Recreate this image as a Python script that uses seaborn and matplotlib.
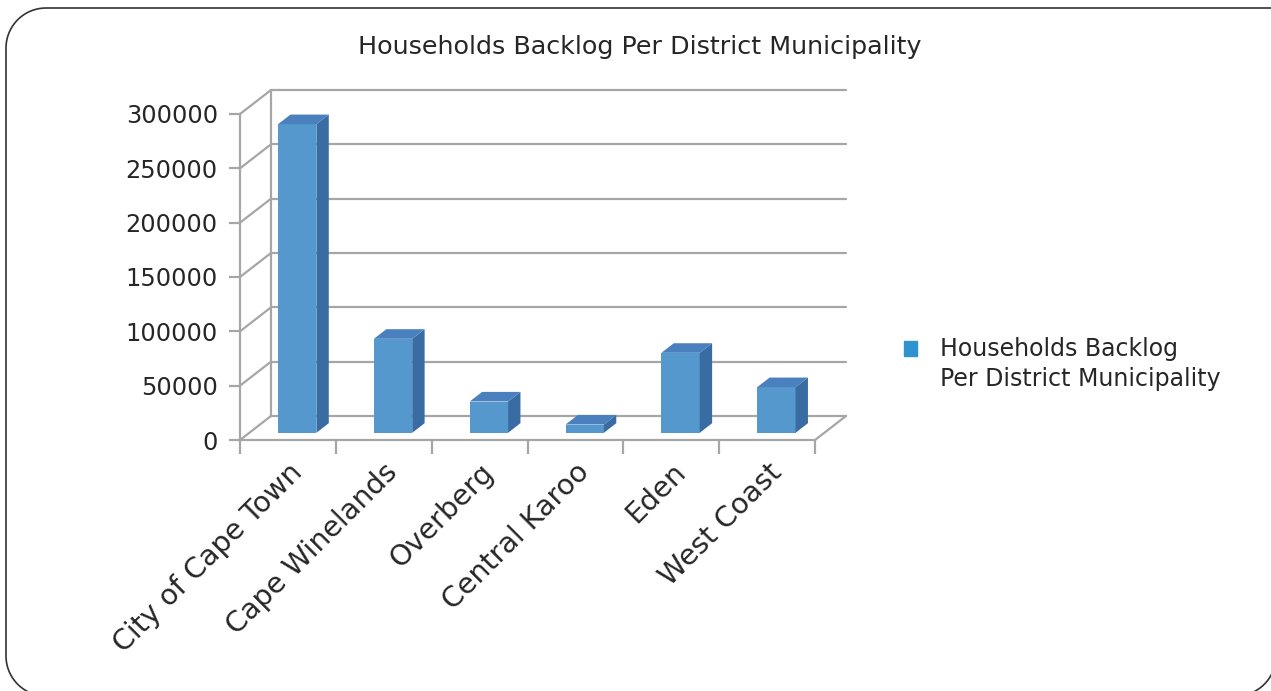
#%% import libraries
import numpy as np
import pandas as pd
import seaborn as sns
import matplotlib
matplotlib.use('Agg')
import matplotlib.pyplot as plt
from matplotlib.patches import Polygon, PathPatch, Patch
from matplotlib.path import Path
from matplotlib.transforms import IdentityTransform

#%% data
districts = ['City of Cape Town', 'Cape Winelands', 'Overberg', 'Central Karoo', 'Eden', 'West Coast']
backlog = [284000, 86500, 28800, 7600, 73600, 42000]
y_ticks = [0, 50000, 100000, 150000, 200000, 250000, 300000]
series_name = 'Households Backlog Per District Municipality'

df = pd.DataFrame({'district': districts, 'backlog': backlog})

#%% style
sns.set_theme(style='white')
plt.rcParams['font.family'] = ['DejaVu Sans']
text_col = '#262626'
grid_col = '#A6A6A6'
front_col = '#5598CE'
side_col = '#386CA2'
top_col = '#4A80BE'

W, H = 1271, 691
fig = plt.figure(figsize=(W / 100, H / 100), dpi=100)

# front plane of the 3d box (pixels)
px_left, px_right, px_bottom, px_top = 240, 815, 440, 114
ax = fig.add_axes([px_left / W, 1 - px_bottom / H, (px_right - px_left) / W, (px_bottom - px_top) / H])

sns.barplot(data=df, x='district', y='backlog', color=front_col, width=0.4,
            saturation=1, ax=ax, zorder=3)
ax.set_xlim(-0.5, len(districts) - 0.5)
ax.set_ylim(0, 300000)

# depth offset of the back wall, converted to data units
ux = (px_right - px_left) / len(districts)
uy = (px_bottom - px_top) / 300000
ddx, ddy = 31 / ux, 24 / uy
lw = 1.6

# back wall gridlines + left wall diagonals
x0, x1 = -0.5, len(districts) - 0.5
for v in y_ticks:
    ax.plot([x0 + ddx, x1 + ddx], [v + ddy, v + ddy], color=grid_col, lw=lw, clip_on=False, zorder=1)
    ax.plot([x0, x0 + ddx], [v, v + ddy], color=grid_col, lw=lw, clip_on=False, zorder=1)
ax.plot([x0 + ddx, x0 + ddx], [ddy, 300000 + ddy], color=grid_col, lw=lw, clip_on=False, zorder=1)
# floor
ax.plot([x0, x1, x1 + ddx], [0, 0, ddy], color=grid_col, lw=lw, clip_on=False, zorder=1)

# 3d bar faces
f0, bd = 0.3, 0.4
for p in ax.patches:
    p.set_x(p.get_x() + f0 * ddx)
    p.set_y(f0 * ddy)
    p.set_edgecolor('none')
    bx0, bx1 = p.get_x(), p.get_x() + p.get_width()
    by0, by1 = p.get_y(), p.get_y() + p.get_height()
    sx, sy = bd * ddx, bd * ddy
    ax.add_patch(Polygon([(bx1, by0), (bx1 + sx, by0 + sy), (bx1 + sx, by1 + sy), (bx1, by1)],
                         closed=True, color=side_col, lw=0, zorder=3, clip_on=False))
    ax.add_patch(Polygon([(bx0, by1), (bx1, by1), (bx1 + sx, by1 + sy), (bx0 + sx, by1 + sy)],
                         closed=True, color=top_col, lw=0, zorder=3, clip_on=False))
for p in ax.patches:
    p.set_clip_on(False)

# axes, ticks, labels
for s in ['top', 'right', 'bottom']:
    ax.spines[s].set_visible(False)
ax.spines['left'].set_color(grid_col)
ax.spines['left'].set_linewidth(lw)
ax.set_yticks(y_ticks)
ax.set_yticklabels([str(v) for v in y_ticks], fontsize=17.3, color=text_col)
ax.tick_params(axis='y', which='major', left=True, length=8, width=lw, color=grid_col, pad=8)
ax.set_xticks(np.arange(len(districts) + 1) - 0.5, minor=True)
ax.tick_params(axis='x', which='minor', bottom=True, length=10, width=lw, color=grid_col)
ax.set_xticks(range(len(districts)))
ax.set_xticklabels(districts, rotation=45, ha='right', rotation_mode='anchor',
                   fontsize=20.5, color=text_col)
ax.tick_params(axis='x', which='major', bottom=False, pad=7)
ax.set_xlabel('')
ax.set_ylabel('')

fig.text(640 / W, 1 - 47 / H, series_name, ha='center', va='center', fontsize=18.3, color=text_col)

handle = Patch(color='#2E93CF')
leg = fig.legend([handle], ['Households Backlog\nPer District Municipality'], loc='upper left',
                 bbox_to_anchor=(883 / W, 1 - 316 / H), frameon=False, fontsize=17,
                 handlelength=0.55, handleheight=0.55, handletextpad=0.95, labelcolor=text_col)
for t in leg.get_texts():
    t.set_linespacing(1.3)
# put the marker next to the first line, like the original
for h in leg.legend_handles:
    h.set_y(h.get_y() + 12)

# slide border: rounded corners, top-right runs off the picture
r = 40
bl, br, bt, bb = 6, 1276, H - 8, H - 696
pts = [(bl + r, bt), (W + 20, bt), (br, bb + r)]
t = np.linspace(0, np.pi / 2, 20)
pts += [(br - r + r * np.cos(a), bb + r - r * np.sin(a)) for a in t]
pts += [(bl + r - r * np.sin(a), bb + r - r * np.cos(a)) for a in t]
pts += [(bl + r - r * np.cos(a), bt - r + r * np.sin(a)) for a in t]
border = PathPatch(Path(pts), transform=IdentityTransform(), fill=False,
                   edgecolor='#333333', lw=1.2)
fig.patches.append(border)

fig.savefig('out.png', dpi=100)
